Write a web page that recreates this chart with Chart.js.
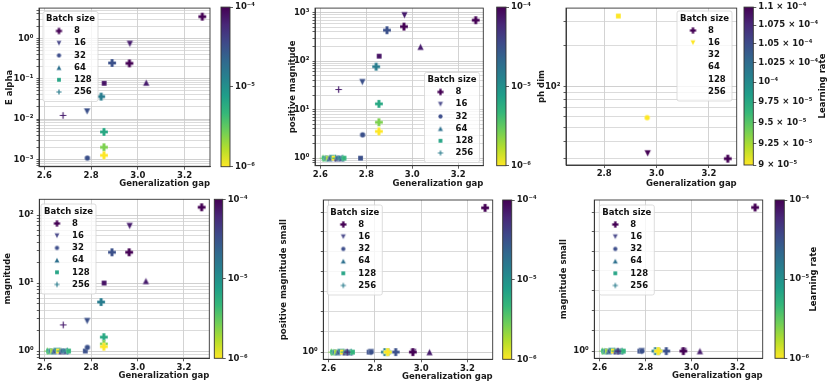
<!DOCTYPE html>
<html>
<head>
<meta charset="utf-8">
<script src="https://cdn.jsdelivr.net/npm/chart.js@4.4.1/dist/chart.umd.min.js"></script>
<style>
  body { margin: 0; background: #fff; }
  #fig { position: relative; width: 830px; height: 386px; overflow: hidden; }
  #fig canvas { position: absolute; left: 0; top: 0; }
</style>
</head>
<body>
<div id="fig"></div>
<script>
// ---- values ----
// one entry per training run (shared by the E alpha / magnitude panels)
const gap = [2.612, 2.617, 2.622, 2.628, 2.634, 2.640, 2.646, 2.652, 2.660, 2.666, 2.672, 2.678, 2.688, 2.693, 2.698, 2.703, 2.775,
             3.276, 2.966, 2.890, 2.964, 2.856, 3.036, 2.843, 2.783, 2.680, 2.855, 2.855, 2.855, 2.784];
const batch = [256, 128, 64, 32, 128, 64, 32, 16, 128, 256, 64, 32, 128, 64, 256, 128, 128,
               8, 16, 8, 8, 128, 64, 8, 16, 256, 8, 8, 8, 32];
const learningRate = [2.5e-6, 5e-6, 4e-6, 1.5e-5, 2e-6, 2e-5, 3e-5, 1e-5, 1e-6, 6e-6, 5e-5, 2e-5, 1.5e-5, 3e-5, 8e-6, 5e-6, 3.2e-5,
                      1e-4, 7e-5, 3.2e-5, 1e-4, 8e-5, 7e-5, 1.45e-5, 3.2e-5, 7e-5, 6.3e-6, 2.5e-6, 1e-6, 3.2e-5];
const eAlpha = [null, null, null, null, null, null, null, null, null, null, null, null, null, null, null, null, null,
                3.44, 0.73, 0.245, 0.24, 0.077, 0.08, 0.036, 0.0154, 0.0123, 0.0048, 0.002, 0.00126, 0.00108];
const posMag = [1, 1, 1, 1, 1, 1, 1, 1, 1, 1, 1, 1, 1, 1, 1, 1, 1,
                698, 885, 435, 516, 127, 198, 77, 37, 26, 13.2, 5.5, 3.56, 3.03];
const mag = [1, 1, 1, 1, 1, 1, 1, 1, 1, 1, 1, 1, 1, 1, 1, 1, 1,
             130, 69, 28.3, 28.3, 10, 10.7, 5.25, 2.76, 2.42, 1.6, 1.27, 1.16, 1.13];
const posMagSmall = [1, 1, 1, 1, 1, 1, 1, 1, 1, 1, 1, 1, 1, 1, 1, 1, 1,
                     1.0724, 1, 1, 1, 1, 1, 1, 1, 1, 1, 1, 1, 1];
const magSmall = [1, 1, 1, 1, 1, 1, 1, 1, 1, 1, 1, 1, 1, 1, 1, 1, 1,
                  1.0726, 1, 1, 1, 1, 1, 1, 1, 1, 1, 1, 1, 1];

// ph dim panel has its own few points and its own colour range
const phGap = [2.854, 2.964, 2.966, 3.272];
const phBatch = [128, 32, 16, 8];
const phLr = [9e-5, 9e-5, 1.1e-4, 1.1e-4];
const phDim = [329, 59.3, 32.5, 29.7];

// ticks
const batchSizes = [8, 16, 32, 64, 128, 256];
const gapTicks = [2.6, 2.8, 3.0, 3.2];
const phGapTicks = [2.8, 3.0, 3.2];
const eAlphaTicks = [1e-3, 1e-2, 1e-1, 1];
const posMagTicks = [1, 10, 100, 1000];
const phDimTicks = [100];
const magTicks = [1, 10, 100];
const smallTicks = [1];
const smallMinor = [1.01, 1.02, 1.03, 1.04, 1.05, 1.06, 1.07];
const lrTicks = [1e-6, 1e-5, 1e-4];
const phLrTicks = [9e-5, 9.25e-5, 9.5e-5, 9.75e-5, 1e-4, 1.025e-4, 1.05e-4, 1.075e-4, 1.1e-4];
const phLrLabels = ['9 × 10⁻⁵', '9.25 × 10⁻⁵', '9.5 × 10⁻⁵', '9.75 × 10⁻⁵', '10⁻⁴',
                    '1.025 × 10⁻⁴', '1.05 × 10⁻⁴', '1.075 × 10⁻⁴', '1.1 × 10⁻⁴'];
const legendColors = ['#440154', '#50508f', '#40508d', '#2d708e', '#27a586', '#2f7f8f'];
const phLegendColors = ['#440154', '#fde725', null, null, null, null];

// ---- helpers ----
Chart.defaults.font.family = "'DejaVu Sans', sans-serif";
Chart.defaults.font.size = 8.5;
Chart.defaults.font.weight = 'bold';
Chart.defaults.color = '#1a1a1a';
const HALF_LH = 8.5 * 1.2 / 2;
const FONT = "bold 8.5px 'DejaVu Sans'";

const VIR = ['#440154', '#482878', '#3e4989', '#31688e', '#26828e', '#1f9e89', '#35b779', '#6ece58', '#b5de2b', '#fde725'];
const hex = h => [1, 3, 5].map(i => parseInt(h.substr(i, 2), 16));
const viridis = p => {
  p = Math.min(1, Math.max(0, p));
  const f = p * 9, i = Math.min(8, Math.floor(f)), t = f - i;
  const a = hex(VIR[i]), b = hex(VIR[i + 1]);
  return 'rgb(' + a.map((v, k) => Math.round(v + (b[k] - v) * t)).join(',') + ')';
};
const lrColor = (v, lo, hi) => viridis(1 - (Math.log10(v) - Math.log10(lo)) / (Math.log10(hi) - Math.log10(lo)));

const SUP = {'-': '⁻', '0': '⁰', '1': '¹', '2': '²', '3': '³', '4': '⁴', '5': '⁵', '6': '⁶', '7': '⁷', '8': '⁸', '9': '⁹'};
const pow10 = v => '10' + String(Math.round(Math.log10(v))).split('').map(c => SUP[c]).join('');
const inList = (v, list) => list.some(t => Math.abs(t - v) / t < 1e-9);
const minorTicks = (lo, hi) => {
  const out = [];
  for (let e = Math.floor(Math.log10(lo)); e <= Math.ceil(Math.log10(hi)); e++)
    for (let m = 2; m <= 9; m++) { const v = m * Math.pow(10, e); if (v >= lo && v <= hi) out.push(v); }
  return out;
};

const SHAPE = {8: 'P', 16: 'v', 32: 'o', 64: '^', 128: 's', 256: '+'};
const MSIZE = {P: 8, v: 6.5, o: 5.5, '^': 6.5, s: 5, '+': 6.5};
const markerCache = {};
function markerImg(shape, color, size) {
  const key = shape + color + size;
  if (markerCache[key]) return markerCache[key];
  const n = Math.ceil(size) + 4;
  const c = document.createElement('canvas');
  c.width = n; c.height = n;
  const g = c.getContext('2d');
  g.translate(n / 2, n / 2);
  const h = size / 2;
  g.beginPath();
  if (shape === 'P') {
    const a = size / 5, b = h;
    [[-a, -b], [a, -b], [a, -a], [b, -a], [b, a], [a, a], [a, b], [-a, b], [-a, a], [-b, a], [-b, -a], [-a, -a]]
      .forEach(([x, y], i) => i ? g.lineTo(x, y) : g.moveTo(x, y));
    g.closePath();
  } else if (shape === 'v') { g.moveTo(0, h); g.lineTo(-h, -h); g.lineTo(h, -h); g.closePath(); }
  else if (shape === '^') { g.moveTo(0, -h); g.lineTo(-h, h); g.lineTo(h, h); g.closePath(); }
  else if (shape === 'o') g.arc(0, 0, h, 0, Math.PI * 2);
  else if (shape === 's') g.rect(-h, -h, size, size);
  if (shape === '+') {
    g.moveTo(-h, 0); g.lineTo(h, 0); g.moveTo(0, -h); g.lineTo(0, h);
    g.strokeStyle = color; g.lineWidth = 1.2; g.stroke();
  } else {
    g.fillStyle = color; g.fill();
    g.strokeStyle = 'rgba(255,255,255,0.6)'; g.lineWidth = 0.4; g.stroke();
  }
  markerCache[key] = c;
  return c;
}

function addCanvas() {
  const c = document.createElement('canvas');
  c.width = 830; c.height = 386;
  document.getElementById('fig').appendChild(c);
  return c;
}

// plugins
const framePlugin = {
  id: 'frame',
  afterDatasetsDraw(chart) {
    const a = chart.chartArea, ctx = chart.ctx;
    ctx.save();
    ctx.strokeStyle = '#333'; ctx.lineWidth = 0.9;
    ctx.strokeRect(a.left, a.top, a.right - a.left, a.bottom - a.top);
    ctx.restore();
  }
};

const legendPlugin = {
  id: 'batchLegend',
  afterDraw(chart, args, o) {
    if (!o || !o.box) return;
    const ctx = chart.ctx, [x, y] = o.box, w = 55, h = 90;
    ctx.save();
    ctx.fillStyle = 'rgba(255,255,255,0.8)';
    ctx.strokeStyle = '#d4d4d4'; ctx.lineWidth = 0.8;
    ctx.beginPath(); ctx.roundRect(x, y, w, h, 2); ctx.fill(); ctx.stroke();
    ctx.fillStyle = '#111'; ctx.font = FONT; ctx.textBaseline = 'middle';
    ctx.textAlign = 'center';
    ctx.fillText('Batch size', x + w / 2, y + 7.5);
    ctx.textAlign = 'left';
    batchSizes.forEach((b, i) => {
      const yy = y + 19.5 + i * 12.2;
      if (o.colors[i]) {
        const s = SHAPE[b], img = markerImg(s, o.colors[i], MSIZE[s] * 0.8);
        ctx.drawImage(img, x + 16 - img.width / 2, yy - img.height / 2);
      }
      ctx.fillText(String(b), x + 31, yy);
    });
    ctx.restore();
  }
};

const colorbarPlugin = {
  id: 'colorbar',
  beforeDraw(chart) {
    const a = chart.chartArea, ctx = chart.ctx;
    const grad = ctx.createLinearGradient(0, a.top, 0, a.bottom);
    VIR.forEach((c, i) => grad.addColorStop(i / 9, c));
    ctx.save();
    ctx.fillStyle = grad;
    ctx.fillRect(a.left, a.top, a.right - a.left, a.bottom - a.top);
    ctx.restore();
  },
  afterDraw(chart, args, o) {
    const a = chart.chartArea, ctx = chart.ctx;
    ctx.save();
    ctx.strokeStyle = '#333'; ctx.lineWidth = 0.9;
    ctx.strokeRect(a.left, a.top, a.right - a.left, a.bottom - a.top);
    if (o && o.title) {
      ctx.translate(o.titleX, (a.top + a.bottom) / 2);
      ctx.rotate(-Math.PI / 2);
      ctx.font = FONT; ctx.fillStyle = '#111';
      ctx.textAlign = 'center'; ctx.textBaseline = 'middle';
      ctx.fillText(o.title, 0, 0);
    }
    ctx.restore();
  }
};

function makePanel(c) {
  const [L, T, R, B] = c.plot;
  const padL = c.yTitleX - HALF_LH;
  const wy = L - padL;
  const hx = c.xTitleY + HALF_LH - B;
  const pts = [], styles = [];
  c.xs.forEach((x, i) => {
    const y = c.ys[i];
    if (y == null) return;
    const s = SHAPE[c.bs[i]];
    pts.push({x, y});
    styles.push(markerImg(s, lrColor(c.lrs[i], c.lrLo, c.lrHi), MSIZE[s]));
  });
  const yMinor = c.yMinor || minorTicks(c.yMin, c.yMax);
  const yAll = c.yMajor.concat(yMinor).filter(v => v >= c.yMin && v <= c.yMax).sort((a, b) => a - b);
  new Chart(addCanvas(), {
    type: 'scatter',
    data: {datasets: [{data: pts, pointStyle: ctx => styles[ctx.dataIndex], pointRadius: 3}]},
    options: {
      responsive: false, animation: false, events: [],
      layout: {padding: {left: padL, top: T, right: 830 - R, bottom: 386 - B - hx}},
      plugins: {legend: {display: false}, tooltip: {enabled: false}, batchLegend: {box: c.legend, colors: c.legendColors}},
      scales: {
        x: {
          type: 'linear', min: c.xMin, max: c.xMax,
          afterBuildTicks: s => { s.ticks = c.xTicks.map(v => ({value: v})); },
          afterFit: s => { s.height = hx; },
          ticks: {callback: v => v.toFixed(1), autoSkip: false, maxRotation: 0, padding: 1},
          grid: {color: '#c8c8c8', lineWidth: 0.8, tickLength: 3, tickColor: '#333'},
          border: {color: '#333', width: 0.9},
          title: {display: true, text: 'Generalization gap', align: 'end', padding: 0}
        },
        y: {
          type: 'logarithmic', min: c.yMin, max: c.yMax,
          afterBuildTicks: s => { s.ticks = yAll.map(v => ({value: v})); },
          afterFit: s => { s.width = wy; },
          ticks: {callback: v => inList(v, c.yMajor) ? pow10(v) : '', autoSkip: false, padding: 3},
          grid: {color: ctx => ctx.tick && inList(ctx.tick.value, c.yMajor) ? '#c4c4c4' : '#d2d2d2',
                 lineWidth: 0.8, tickLength: 2.5, tickColor: '#333'},
          border: {color: '#333', width: 0.9},
          title: {display: true, text: c.yTitle, padding: 0}
        }
      }
    },
    plugins: [framePlugin, legendPlugin]
  });
}

function makeColorbar(c) {
  const [L, T, R, B] = c.rect;
  new Chart(addCanvas(), {
    type: 'scatter',
    data: {datasets: []},
    options: {
      responsive: false, animation: false, events: [],
      layout: {padding: {left: L, top: T, right: 0, bottom: 386 - B}},
      plugins: {legend: {display: false}, tooltip: {enabled: false}, colorbar: {title: c.title, titleX: c.titleX}},
      scales: {
        x: {display: false, min: 0, max: 1},
        y: {
          type: 'logarithmic', position: 'right', min: c.lo, max: c.hi,
          afterBuildTicks: s => { s.ticks = c.ticks.map(v => ({value: v})); },
          afterFit: s => { s.width = 830 - R; },
          ticks: {callback: (v, i) => c.labels[i], autoSkip: false, padding: 2},
          grid: {drawOnChartArea: false, tickLength: 3, tickColor: '#333', lineWidth: 0.8},
          border: {display: false}
        }
      }
    },
    plugins: [colorbarPlugin]
  });
}

// ---- panels ----
const GX = [2.577, 3.309];
makePanel({plot: [39, 6, 210, 166.7], yTitleX: 10, xTitleY: 183.3, xMin: GX[0], xMax: GX[1], xTicks: gapTicks,
  yMin: 6.6e-4, yMax: 5.6, yMajor: eAlphaTicks, yTitle: 'E alpha',
  xs: gap, ys: eAlpha, bs: batch, lrs: learningRate, lrLo: 1e-6, lrHi: 1e-4, legend: [43, 11.5], legendColors});
makePanel({plot: [315, 6.7, 483.3, 165.7], yTitleX: 292.3, xTitleY: 183.3, xMin: GX[0], xMax: GX[1], xTicks: gapTicks,
  yMin: Math.pow(10, -0.147), yMax: Math.pow(10, 3.094), yMajor: posMagTicks, yTitle: 'positive magnitude',
  xs: gap, ys: posMag, bs: batch, lrs: learningRate, lrLo: 1e-6, lrHi: 1e-4, legend: [424.5, 72.5], legendColors});
makePanel({plot: [566, 6.7, 736.7, 165], yTitleX: 542, xTitleY: 183.3, xMin: 2.654, xMax: 3.306, xTicks: phGapTicks,
  yMin: 26.7, yMax: 376, yMajor: phDimTicks, yTitle: 'ph dim',
  xs: phGap, ys: phDim, bs: phBatch, lrs: phLr, lrLo: 9e-5, lrHi: 1.1e-4, legend: [677, 11], legendColors: phLegendColors});
makePanel({plot: [39.3, 199.3, 209.3, 358.3], yTitleX: 7.5, xTitleY: 376, xMin: GX[0], xMax: GX[1], xTicks: gapTicks,
  yMin: Math.pow(10, -0.107), yMax: Math.pow(10, 2.231), yMajor: magTicks, yTitle: 'magnitude',
  xs: gap, ys: mag, bs: batch, lrs: learningRate, lrLo: 1e-6, lrHi: 1e-4, legend: [41, 204], legendColors});
makePanel({plot: [323.3, 200, 492.7, 359.3], yTitleX: 283.3, xTitleY: 376.5, xMin: GX[0], xMax: GX[1], xTicks: gapTicks,
  yMin: 0.9965, yMax: 1.0765, yMajor: smallTicks, yMinor: smallMinor, yTitle: 'positive magnitude small',
  xs: gap, ys: posMagSmall, bs: batch, lrs: learningRate, lrLo: 1e-6, lrHi: 1e-4, legend: [327.3, 205], legendColors});
makePanel({plot: [594.3, 200, 762.7, 358.3], yTitleX: 564, xTitleY: 376, xMin: GX[0], xMax: GX[1], xTicks: gapTicks,
  yMin: 0.9965, yMax: 1.0765, yMajor: smallTicks, yMinor: smallMinor, yTitle: 'magnitude small',
  xs: gap, ys: magSmall, bs: batch, lrs: learningRate, lrLo: 1e-6, lrHi: 1e-4, legend: [599.3, 205], legendColors});

// ---- colorbars ----
const lrLabels = lrTicks.map(pow10);
makeColorbar({rect: [221, 6, 230, 166.7], lo: 1e-6, hi: 1e-4, ticks: lrTicks, labels: lrLabels});
makeColorbar({rect: [496.7, 6.7, 506, 165.7], lo: 1e-6, hi: 1e-4, ticks: lrTicks, labels: lrLabels});
makeColorbar({rect: [744, 6.7, 753.3, 165], lo: 9e-5, hi: 1.1e-4, ticks: phLrTicks, labels: phLrLabels,
  title: 'Learning rate', titleX: 822.7});
makeColorbar({rect: [214.3, 199.3, 222.7, 358.3], lo: 1e-6, hi: 1e-4, ticks: lrTicks, labels: lrLabels});
makeColorbar({rect: [502.7, 200, 511.7, 359.3], lo: 1e-6, hi: 1e-4, ticks: lrTicks, labels: lrLabels});
makeColorbar({rect: [775, 200, 784.3, 358.3], lo: 1e-6, hi: 1e-4, ticks: lrTicks, labels: lrLabels,
  title: 'Learning rate', titleX: 813.3});
</script>
</body>
</html>
